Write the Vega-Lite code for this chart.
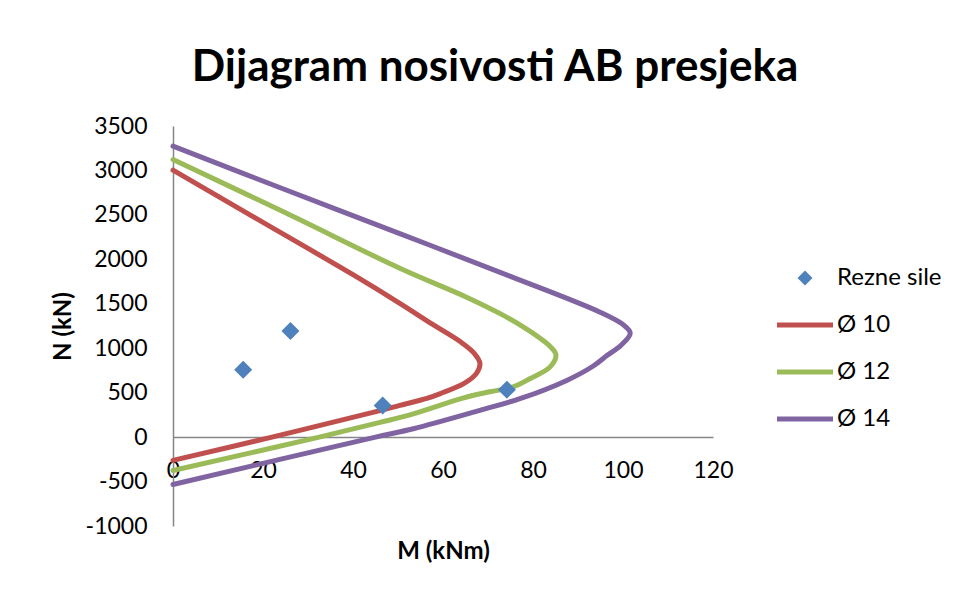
{
  "$schema": "https://vega.github.io/schema/vega-lite/v6.json",
  "width": 540,
  "height": 400,
  "autosize": {"type": "none"},
  "padding": {"left": 173, "top": 126, "right": 243, "bottom": 63},
  "background": "white",
  "config": {
    "view": {"stroke": null},
    "font": "Lato",
    "axis": {
      "grid": false,
      "ticks": false,
      "tickSize": 0,
      "domainColor": "#868686",
      "domainWidth": 1.5,
      "labelFont": "Lato",
      "labelFontSize": 23,
      "labelColor": "black",
      "titleFont": "Lato",
      "titleFontSize": 24,
      "titleFontWeight": "bold",
      "titleColor": "black"
    }
  },
  "title": {
    "text": "Dijagram nosivosti AB presjeka",
    "font": "Lato",
    "fontSize": 44,
    "fontWeight": "bold",
    "color": "black",
    "anchor": "middle",
    "dx": 52,
    "offset": 25
  },
  "data": {
    "values": [
      {"series": "Ø 10", "i": 0, "M": 0, "N": 3003},
      {"series": "Ø 10", "i": 1, "M": 20, "N": 2415},
      {"series": "Ø 10", "i": 2, "M": 40, "N": 1827},
      {"series": "Ø 10", "i": 3, "M": 50.4, "N": 1505},
      {"series": "Ø 10", "i": 4, "M": 57.8, "N": 1265},
      {"series": "Ø 10", "i": 5, "M": 63.8, "N": 1075},
      {"series": "Ø 10", "i": 6, "M": 66.8, "N": 950},
      {"series": "Ø 10", "i": 7, "M": 68.2, "N": 830},
      {"series": "Ø 10", "i": 8, "M": 67.4, "N": 714},
      {"series": "Ø 10", "i": 9, "M": 64.6, "N": 601},
      {"series": "Ø 10", "i": 10, "M": 59.4, "N": 490},
      {"series": "Ø 10", "i": 11, "M": 56.4, "N": 435},
      {"series": "Ø 10", "i": 12, "M": 50.4, "N": 357},
      {"series": "Ø 10", "i": 13, "M": 46, "N": 298},
      {"series": "Ø 10", "i": 14, "M": 22, "N": 0},
      {"series": "Ø 10", "i": 15, "M": 0, "N": -262},
      {"series": "Ø 12", "i": 0, "M": 0, "N": 3123},
      {"series": "Ø 12", "i": 1, "M": 25, "N": 2523},
      {"series": "Ø 12", "i": 2, "M": 50.4, "N": 1900},
      {"series": "Ø 12", "i": 3, "M": 65, "N": 1580},
      {"series": "Ø 12", "i": 4, "M": 72.7, "N": 1389},
      {"series": "Ø 12", "i": 5, "M": 78, "N": 1235},
      {"series": "Ø 12", "i": 6, "M": 81.5, "N": 1115},
      {"series": "Ø 12", "i": 7, "M": 84, "N": 1010},
      {"series": "Ø 12", "i": 8, "M": 85.1, "N": 925},
      {"series": "Ø 12", "i": 9, "M": 83.8, "N": 790},
      {"series": "Ø 12", "i": 10, "M": 79.3, "N": 657},
      {"series": "Ø 12", "i": 11, "M": 75.6, "N": 565},
      {"series": "Ø 12", "i": 12, "M": 70.4, "N": 510},
      {"series": "Ø 12", "i": 13, "M": 64.6, "N": 442},
      {"series": "Ø 12", "i": 14, "M": 53.4, "N": 262},
      {"series": "Ø 12", "i": 15, "M": 46, "N": 165},
      {"series": "Ø 12", "i": 16, "M": 32.5, "N": 0},
      {"series": "Ø 12", "i": 17, "M": 0, "N": -375},
      {"series": "Ø 14", "i": 0, "M": 0, "N": 3273},
      {"series": "Ø 14", "i": 1, "M": 25, "N": 2783},
      {"series": "Ø 14", "i": 2, "M": 50.4, "N": 2290},
      {"series": "Ø 14", "i": 3, "M": 75, "N": 1808},
      {"series": "Ø 14", "i": 4, "M": 94.9, "N": 1405},
      {"series": "Ø 14", "i": 5, "M": 100.1, "N": 1262},
      {"series": "Ø 14", "i": 6, "M": 101.6, "N": 1170},
      {"series": "Ø 14", "i": 7, "M": 99.5, "N": 1030},
      {"series": "Ø 14", "i": 8, "M": 96.5, "N": 920},
      {"series": "Ø 14", "i": 9, "M": 93.4, "N": 800},
      {"series": "Ø 14", "i": 10, "M": 87.5, "N": 638},
      {"series": "Ø 14", "i": 11, "M": 77.1, "N": 432},
      {"series": "Ø 14", "i": 12, "M": 68.2, "N": 301},
      {"series": "Ø 14", "i": 13, "M": 53.4, "N": 94},
      {"series": "Ø 14", "i": 14, "M": 45, "N": 0},
      {"series": "Ø 14", "i": 15, "M": 0, "N": -533},
      {"series": "Rezne sile", "i": 0, "M": 15.6, "N": 759},
      {"series": "Rezne sile", "i": 1, "M": 26.1, "N": 1194},
      {"series": "Rezne sile", "i": 2, "M": 46.6, "N": 357},
      {"series": "Rezne sile", "i": 3, "M": 74.2, "N": 534}
    ]
  },
  "layer": [
    {
      "transform": [{"filter": "datum.series !== 'Rezne sile'"}],
      "mark": {"type": "line", "strokeWidth": 5, "interpolate": "catmull-rom", "strokeCap": "round", "strokeJoin": "round"},
      "encoding": {
        "x": {
          "field": "M", "type": "quantitative",
          "scale": {"domain": [0, 120], "nice": false, "zero": false},
          "axis": {"title": "M (kNm)", "values": [0, 20, 40, 60, 80, 100, 120], "labelExpr": "'' + datum.value", "offset": -88.9, "labelPadding": 22, "labelBaseline": "top", "labelFlush": false, "labelOverlap": false, "titlePadding": 57}
        },
        "y": {
          "field": "N", "type": "quantitative",
          "scale": {"domain": [-1000, 3500], "nice": false, "zero": false},
          "axis": {"title": "N (kN)", "values": [-1000, -500, 0, 500, 1000, 1500, 2000, 2500, 3000, 3500], "labelExpr": "'' + datum.value", "labelPadding": 26, "labelFlush": false, "labelOverlap": false, "titlePadding": 10}
        },
        "color": {
          "field": "series", "type": "nominal",
          "scale": {"domain": ["Rezne sile", "Ø 10", "Ø 12", "Ø 14"], "range": ["#4F81BD", "#C0504D", "#9BBB59", "#8064A2"]},
          "legend": {
            "title": null,
            "orient": "none",
            "legendX": 604,
            "legendY": 140,
            "padding": 0,
            "symbolType": "stroke",
            "symbolStrokeWidth": 5,
            "symbolOffset": 16,
            "rowPadding": 23,
            "labelFont": "Lato",
            "labelFontSize": 24,
            "labelColor": "black",
            "labelOffset": 20,
            "labelLimit": 200,
            "encode": {
              "symbols": {
                "update": {
                  "shape": {"signal": "datum.value === 'Rezne sile' ? 'diamond' : 'stroke'"},
                  "size": {"signal": "datum.value === 'Rezne sile' ? 225 : 3136"},
                  "strokeWidth": {"signal": "datum.value === 'Rezne sile' ? 0 : 5"},
                  "fill": {"signal": "scale('color', datum.value)"},
                  "stroke": {"signal": "scale('color', datum.value)"},
                  "opacity": {"value": 1},
                  "fillOpacity": {"value": 1},
                  "strokeOpacity": {"value": 1}
                }
              }
            }
          }
        },
        "order": {"field": "i", "type": "quantitative"}
      }
    },
    {
      "transform": [{"filter": "datum.series === 'Rezne sile'"}],
      "mark": {"type": "point", "shape": "diamond", "filled": true, "size": 324, "opacity": 1},
      "encoding": {
        "x": {"field": "M", "type": "quantitative"},
        "y": {"field": "N", "type": "quantitative"},
        "color": {"field": "series", "type": "nominal"}
      }
    }
  ]
}
